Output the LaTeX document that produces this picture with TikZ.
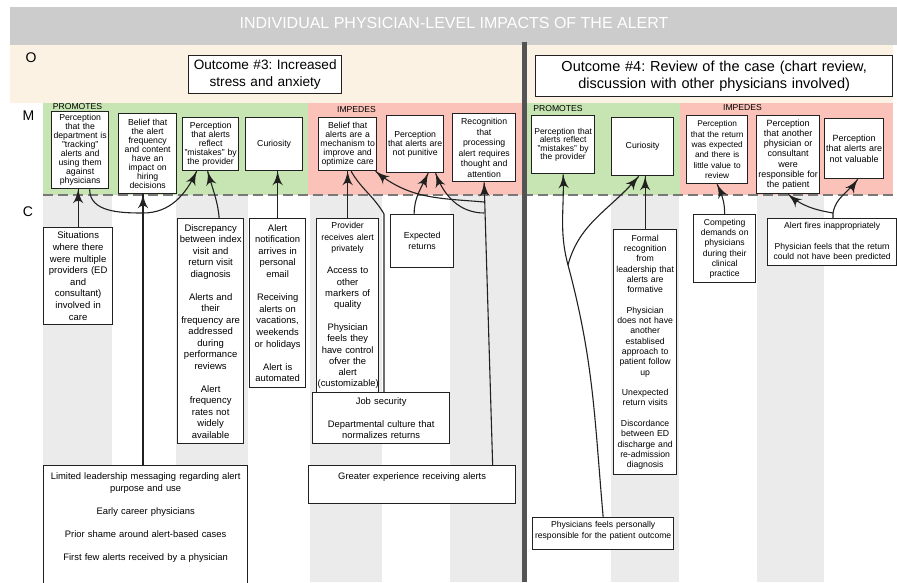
\documentclass[tikz,border=0pt]{standalone}
\usepackage{fontspec}
\setmainfont{Liberation Sans}
\usepackage{tikz}
\usetikzlibrary{arrows}
\usetikzlibrary{decorations.markings}
\definecolor{mhead}{rgb}{0.8, 0.8, 0.8}
\definecolor{mbeige}{rgb}{0.99, 0.95, 0.89}
\definecolor{mgreen}{rgb}{0.78, 0.9, 0.7}
\definecolor{mred}{rgb}{0.98, 0.76, 0.72}
\definecolor{mstripe}{rgb}{0.92, 0.92, 0.92}
\definecolor{mdash}{rgb}{0.47, 0.47, 0.47}
\definecolor{mdiv}{rgb}{0.33, 0.33, 0.33}
\definecolor{mline}{rgb}{0.13, 0.13, 0.13}
\tikzset{arr/.style = {color=mline, line width=1.1pt,
                       decoration={markings,
                                   mark=at position 1 with {\arrow[scale=2.3]{latex'}}},
                       postaction={decorate}}}
\tikzset{mbox/.style = {draw=mline, line width=1.3pt, fill=white, align=center,
                        anchor=north west, inner sep=1pt,
                        font=\fontsize{8.7}{9}\selectfont}}
\tikzset{cbox/.style = {mbox, inner sep=2pt,
                        font=\fontsize{9.4}{11.6}\selectfont}}
\tikzset{outbox/.style = {mbox, inner xsep=1pt, inner ysep=2pt, line width=1.4pt,
                          font=\fontsize{13.6}{17.5}\selectfont}}
\tikzset{effect/.style = {font=\fontsize{8.6}{10}\selectfont}}
\tikzset{rowname/.style = {font=\fontsize{14}{16}\selectfont}}
\newcommand{\emptyline}{\\[\baselineskip]}

\begin{document}
\frenchspacing
\begin{tikzpicture}[x=1pt, y=-1pt]
  \useasboundingbox (0, 0) rectangle (897, 582);
  \clip (0, 0) rectangle (897, 582);
  \fill[mbeige] (10, 45) rectangle (893, 103);
  \fill[mhead] (10, 7) rectangle (897, 45);
  \fill[mgreen] (43, 103) rectangle (308, 195);
  \fill[mred] (308, 103) rectangle (522, 195);
  \fill[mgreen] (527, 103) rectangle (680, 195);
  \fill[mred] (680, 103) rectangle (893, 195);
  \foreach \a/\b in {43/112, 176/248, 310/382, 450/522, 611/679, 757/824}
    \fill[mstripe] (\a, 195) rectangle (\b, 582);
  \draw[mdash, line width=2.6pt, dash pattern=on 10pt off 5pt] (43, 195) -- (893, 195);
  \draw[mdiv, line width=4.5pt] (524.5, 42) -- (524.5, 582);

  \node[white, font=\fontsize{16}{18}\selectfont] (title) at (454, 23)
    {INDIVIDUAL PHYSICIAN-LEVEL IMPACTS OF THE ALERT};
  \node[rowname] (rowO) at (31, 57.5) {O};
  \node[rowname] (rowM) at (28.5, 116) {M};
  \node[rowname] (rowC) at (28, 212) {C};
  \node[effect] (promL) at (77.5, 106.5) {PROMOTES};
  \node[effect] (impL) at (356.5, 109.5) {IMPEDES};
  \node[effect] (promR) at (558, 109) {PROMOTES};
  \node[effect] (impR) at (742.5, 107.5) {IMPEDES};

  \node[outbox, text width=151pt, minimum height=38pt] (out3) at (188, 55)
    {Outcome \#3: Increased\\stress and anxiety};
  \node[outbox, text width=355pt, minimum height=41pt,
        font=\fontsize{14.5}{17.5}\selectfont] (out4) at (535, 55)
    {Outcome \#4: Review of the case (chart review,\\discussion with other physicians involved)};

  \node[mbox, text width=55pt, minimum height=77pt] (b1) at (51, 111)
    {Perception\\that the\\department is\\"tracking"\\alerts and\\using them\\against\\physicians};
  \node[mbox, text width=56pt, minimum height=80pt] (b2) at (118, 113)
    {Belief that\\the alert\\frequency\\and content\\have an\\impact on\\hiring\\decisions};
  \node[mbox, text width=54pt, minimum height=53pt] (b3) at (182, 117)
    {Perception\\that alerts\\reflect\\"mistakes" by\\the provider};
  \node[mbox, text width=55pt, minimum height=53pt] (b4) at (245, 117) {Curiosity};
  \node[mbox, text width=56pt, minimum height=53pt] (b5) at (318, 117)
    {Belief that\\alerts are a\\mechanism to\\improve and\\optimize care};
  \node[mbox, text width=55pt, minimum height=57pt] (b6) at (386, 115)
    {Perception\\that alerts are\\not punitive};
  \node[mbox, text width=61pt, minimum height=68pt,
        font=\fontsize{8.7}{10.5}\selectfont] (b7) at (452, 113)
    {Recognition\\that\\processing\\alert requires\\thought and\\attention};

  \node[mbox, text width=61pt, minimum height=58pt,
        font=\fontsize{8.5}{8.5}\selectfont] (b8) at (531, 115)
    {Perception that\\alerts reflect\\"mistakes" by\\the provider};
  \node[mbox, text width=60pt, minimum height=58pt] (b9) at (611, 117) {Curiosity};
  \node[mbox, text width=59pt, minimum height=68pt,
        font=\fontsize{8.3}{10.3}\selectfont] (b10) at (686, 115)
    {Perception\\that the return\\was expected\\and there is\\little value to\\review};
  \node[mbox, text width=61pt, minimum height=78pt,
        font=\fontsize{9}{10.2}\selectfont] (b11) at (756, 115)
    {Perception\\that another\\physician or\\consultant\\were\\responsible for\\the patient};
  \node[mbox, text width=57pt, minimum height=60pt,
        font=\fontsize{9}{10.8}\selectfont] (b12) at (824, 118)
    {Perception\\that alerts are\\not valuable};

  \node[cbox, text width=65pt, minimum height=97pt,
        font=\fontsize{9.5}{11.6}\selectfont] (cA) at (43, 227)
    {Situations\\where there\\were multiple\\providers (ED\\and\\consultant)\\involved in\\care};
  \node[cbox, text width=200pt, text height=12pt, text depth=120pt] (cB) at (43, 465)
    {Limited leadership messaging regarding alert\\purpose and use\emptyline
     Early career physicians\emptyline
     Prior shame around alert-based cases\emptyline
     First few alerts received by a physician};
  \node[cbox, text width=62pt, minimum height=225pt,
        font=\fontsize{9.5}{11.5}\selectfont] (cC) at (177, 218)
    {Discrepancy\\between index\\visit and\\return visit\\diagnosis\emptyline
     Alerts and\\their\\frequency are\\addressed\\during\\performance\\reviews\emptyline
     Alert\\frequency\\rates not\\widely\\available};
  \node[cbox, text width=52pt, minimum height=169pt] (cD) at (249, 218)
    {Alert\\notification\\arrives in\\personal\\email\emptyline
     Receiving\\alerts on\\vacations,\\weekends\\or holidays\emptyline
     Alert is\\automated};
  \node[cbox, text width=60pt, inner xsep=1pt, minimum height=174pt,
        font=\fontsize{9.4}{11.3}\selectfont] (cE) at (316, 218)
    {{\fontsize{8.7}{10}\selectfont Provider}\\{\fontsize{8.7}{10}\selectfont receives alert}\\
     {\fontsize{8.7}{10}\selectfont privately}\emptyline
     Access to\\other\\markers of\\quality\emptyline
     Physician\\feels they\\have control\\ofver the\\alert\\(customizable)};
  \node[cbox, text width=59pt, minimum height=53pt,
        font=\fontsize{8.8}{10.7}\selectfont] (cF) at (390, 214) {Expected\\returns};
  \node[cbox, text width=133pt, minimum height=51pt,
        font=\fontsize{9.4}{11.5}\selectfont] (cG) at (312, 392)
    {Job security\emptyline Departmental culture that\\normalizes returns};
  \node[cbox, text width=203pt, text height=12pt, text depth=22pt] (cH) at (308, 465)
    {Greater experience receiving alerts};

  \node[cbox, text width=59pt, minimum height=245pt,
        font=\fontsize{8.7}{10.3}\selectfont] (cI) at (613, 229)
    {Formal\\recognition\\from\\leadership that\\alerts are\\formative\emptyline
     Physician\\does not have\\another\\establised\\approach to\\patient follow\\up\emptyline
     Unexpected\\return visits\emptyline
     Discordance\\between ED\\discharge and\\re-admission\\diagnosis};
  \node[cbox, text width=58pt, minimum height=68pt,
        font=\fontsize{8.6}{10.3}\selectfont] (cJ) at (693, 214)
    {Competing\\demands on\\physicians\\during their\\clinical\\practice};
  \node[cbox, text width=125pt, minimum height=47pt,
        font=\fontsize{8.6}{10.4}\selectfont] (cK) at (767, 218)
    {Alert fires inappropriately\emptyline Physician feels that the return\\could not have been predicted};
  \node[cbox, text width=137pt, text height=7.5pt, text depth=20.5pt,
        font=\fontsize{8.6}{11}\selectfont] (cL) at (532, 517)
    {Physicians feels personally\\responsible for the patient outcome};

  \coordinate (jB) at (143, 213);
  \coordinate (jG) at (384, 214);
  \coordinate (jH1) at (484, 202);
  \coordinate (jH2) at (484.5, 213);
  \coordinate (jL) at (568, 265);
  \coordinate (jK) at (833, 213);

  \draw[arr] (cA.north) -- (cA.north |- b1.south);
  \draw[arr] (cB.north -| jB) -- (jB) -- (jB |- b2.south);
  \draw[arr] (jB) to[out=180, in=-90] ([xshift=9.5]b1.south);
  \draw[arr] (jB) to[out=0, in=-115] ([xshift=-14]b3.south);
  \draw[arr] ([xshift=8.5]cC.north) to[out=95, in=-75] ([xshift=-3]b3.south);
  \draw[arr] (cD.north) -- (cD.north |- b4.south);
  \draw[arr] (cE.north) -- (b5.south);
  \draw[arr] (cG.north -| jG) -- (jG) to[out=120, in=-60] ([xshift=3.5]b5.south);
  \draw[arr] ([xshift=-8]cF.north) to[out=90, in=-115] ([xshift=13]b6.south);
  \draw[arr] ([xshift=80.5]cH.north) -- (b7.south);
  \draw[arr] (jH1) to[out=175, in=-40] ([xshift=28]b5.south);
  \draw[arr] (jH2) to[out=180, in=-70] ([xshift=20.5]b6.south);

  \draw[arr] (cL.north) to[out=95, in=-75] (jL) to[out=105, in=-88] (b8.south);
  \draw[arr] (jL) to[out=75, in=-130] ([xshift=-4]b9.south);
  \draw[arr] (cI.north) -- (cI.north |- b9.south);
  \draw[arr] (cJ.north) to[out=90, in=-65] (b10.south);
  \draw[arr] (cK.north -| jK) -- (jK) to[out=170, in=-40] (b11.south);
  \draw[arr] (jK) to[out=80, in=-125] ([xshift=3.5]b12.south);
\end{tikzpicture}
\end{document}
